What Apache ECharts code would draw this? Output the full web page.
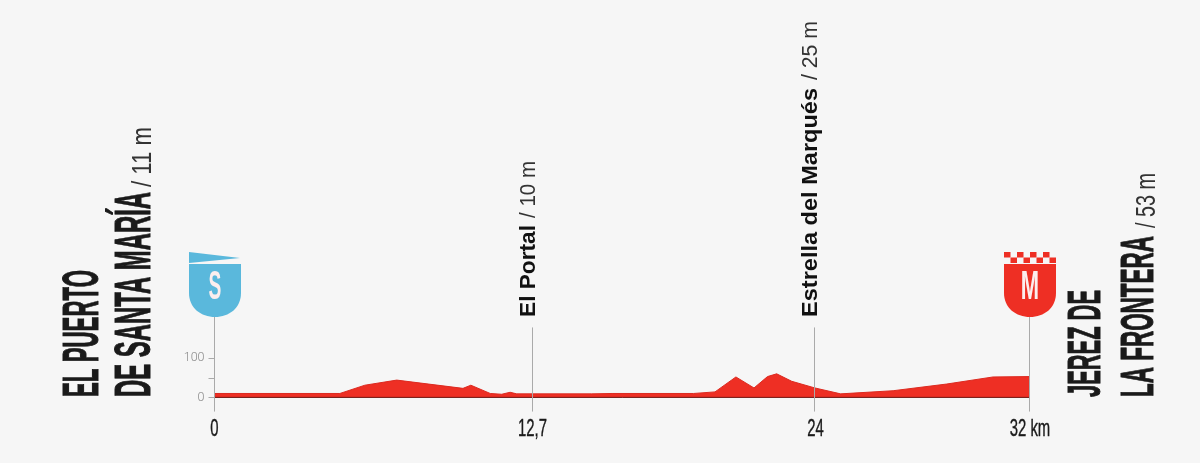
<!DOCTYPE html>
<html><head><meta charset="utf-8">
<style>html,body{margin:0;padding:0;background:#f6f6f6}#c{width:1200px;height:463px}</style>
<script src="https://cdn.jsdelivr.net/npm/echarts@6/dist/echarts.min.js"></script>
</head><body><div id="c"></div>
<script>
const profileKm = [0,4.92,5.9,7.15,9.75,10.06,10.82,11.27,11.6,11.86,14.8,15.6,18.8,19.64,20.46,21.17,21.7,22.06,22.65,23.56,24.57,26.63,28.73,30.55,32];
const profileElev = [10,10,31,44,23,31,10,8,13,9,9,10,10,14,52,24,53,60,41,24,9,17,34,52,53];
const yTicks = [0,50,100];
const yLabels = {0:'0',100:'100'};
const tickKm = [0,12.48,23.58,32];
const tickLabels = ['0','12,7','24','32 km'];
const stopKm = [12.48,23.58];
const stopNames = ['El Portal','Estrella del Marqués'];
const stopAlt = ['/ 10 m','/ 25 m'];
const endKm = [0,32];
const endLetters = ['S','M'];
const placeLines = ['EL PUERTO','DE SANTA MARÍA','/ 11 m','JEREZ DE','LA FRONTERA','/ 53 m'];

const RED='#ee2f24', BLUE='#5ab8dc';
const cv=document.createElement('canvas').getContext('2d');
function fit(text,font,len){cv.font=font;return len/cv.measureText(text).width;}
function vtext(text,x,y,font,len,fill,heavy){
  const st={text:text,font:font,fill:fill||'#1a1a1a',align:'left',verticalAlign:'middle'};
  if(heavy){st.stroke=st.fill;st.lineWidth=heavy;}
  return {type:'text',x:x,y:y,rotation:Math.PI/2,scaleX:fit(text,font,len),z2:10,style:st};
}
const NB='bold 50px "Liberation Sans"', NB2='bold 46px "Liberation Sans"', NL='28px "Liberation Sans"';
const places=[
  vtext(placeLines[0],84,397,NB,127,'#1a1a1a',1),
  vtext(placeLines[1],136,397,NB,205,'#1a1a1a',1),
  vtext(placeLines[2],143,187,NL,60,'#333'),
  vtext(placeLines[3],1087,397,NB2,107,'#1a1a1a',1),
  vtext(placeLines[4],1140,397,NB2,161,'#1a1a1a',1),
  vtext(placeLines[5],1147,228,NL,55,'#333')
];
function shield(cx,color,letter){
  const l=cx-26,r=cx+26,t=264,m=293,b=317;
  const kids=[{type:'path',shape:{pathData:`M${l} ${t}L${r} ${t}L${r} ${m}C${r} ${m+15} ${cx+14} ${b} ${cx} ${b}C${cx-14} ${b} ${l} ${m+15} ${l} ${m}Z`},style:{fill:color}}];
  const f='bold 40px "Liberation Sans"';
  kids.push({type:'text',x:cx,y:288,scaleX:letter==='S'?0.48:0.55,scaleY:1,style:{text:letter,font:f,fill:'#fbeeee',align:'center',verticalAlign:'middle'},z2:3});
  if(letter==='S'){
    kids.push({type:'polygon',shape:{points:[[l,252],[r-1,258],[l,263]]},style:{fill:color}});
  }else{
    for(let i=0;i<4;i++){
      kids.push({type:'rect',shape:{x:l+13*i,y:252,width:6.5,height:5.5},style:{fill:color}});
      kids.push({type:'rect',shape:{x:l+6.5+13*i,y:257.5,width:6.5,height:5.5},style:{fill:color}});
    }
  }
  return {type:'group',children:kids};
}
const chart=echarts.init(document.getElementById('c'),null,{renderer:'canvas'});
chart.setOption({
  animation:false,
  backgroundColor:'#f6f6f6',
  grid:{left:214.5,right:170,top:299.15,bottom:45.95},
  xAxis:{type:'value',min:0,max:32,position:'bottom',splitLine:{show:false},axisLine:{show:false},axisTick:{show:false},axisLabel:{show:false}},
  yAxis:{type:'value',min:-50,max:250,splitLine:{show:false},axisLine:{show:false},
    axisTick:{show:true,length:6,lineStyle:{color:'#aaa',width:1},customValues:yTicks},
    axisLabel:{customValues:[0,100],margin:10,fontFamily:'Roboto',fontWeight:300,fontSize:12.5,color:'#8a8a8a',formatter:v=>yLabels[v]}},
  graphic:places,
  series:[
    {type:'line',data:profileKm.map((k,i)=>[k,profileElev[i]]),symbol:'none',smooth:false,z:2,
      lineStyle:{color:'#dc2a20',width:1},areaStyle:{color:RED,opacity:1,origin:0}},
    {type:'line',data:[[0,0],[32,0]],symbol:'none',z:3,lineStyle:{color:'#6e1410',width:1}},
    {type:'custom',z:5,clip:false,coordinateSystem:'cartesian2d',data:endKm.map((k,i)=>[k,i]),
      renderItem:(p,api)=>{
        const i=api.value(1),x=Math.round(api.coord([api.value(0),0])[0])-0.5;
        const g=shield(x+0.5,i===0?BLUE:RED,endLetters[i]);
        const a=api.coord([0,-36])[1],b=api.coord([0,205])[1];
        g.children.unshift({type:'line',shape:{x1:x,y1:a,x2:x,y2:b},style:{stroke:'#aaa',lineWidth:1}});
        return g;
      },encode:{x:0,y:1}},
    {type:'custom',z:5,clip:false,coordinateSystem:'cartesian2d',data:stopKm.map((k,i)=>[k,i]),
      renderItem:(p,api)=>{
        const i=api.value(1),x=Math.round(api.coord([api.value(0),0])[0])-0.5;
        const a=api.coord([0,-36])[1],b=api.coord([0,178])[1];
        const F='bold 22px "Liberation Sans"',L='22px "Liberation Sans"';
        const lens=[[92,57],[229,59]][i], gaps=[218,80][i];
        return {type:'group',children:[
          {type:'line',shape:{x1:x,y1:a,x2:x,y2:b},style:{stroke:'#aaa',lineWidth:1}},
          vtext(stopNames[i],x-3.5,317,F,lens[0],'#111'),
          vtext(stopAlt[i],x-3.5,gaps,L,lens[1],'#333')
        ]};
      },encode:{x:0,y:1}},
    {type:'custom',z:6,clip:false,coordinateSystem:'cartesian2d',data:tickKm.map((k,i)=>[k,i]),
      renderItem:(p,api)=>{
        const i=api.value(1),t=tickLabels[i],c=api.coord([api.value(0),0]);
        const f='24px "Liberation Sans"';
        return {type:'text',x:c[0],y:429,scaleX:0.62,style:{text:t,font:f,fill:'#1a1a1a',align:'center',verticalAlign:'middle',stroke:'#1a1a1a',lineWidth:0.4}};
      },encode:{x:0,y:1}}
  ]
});
</script></body></html>
